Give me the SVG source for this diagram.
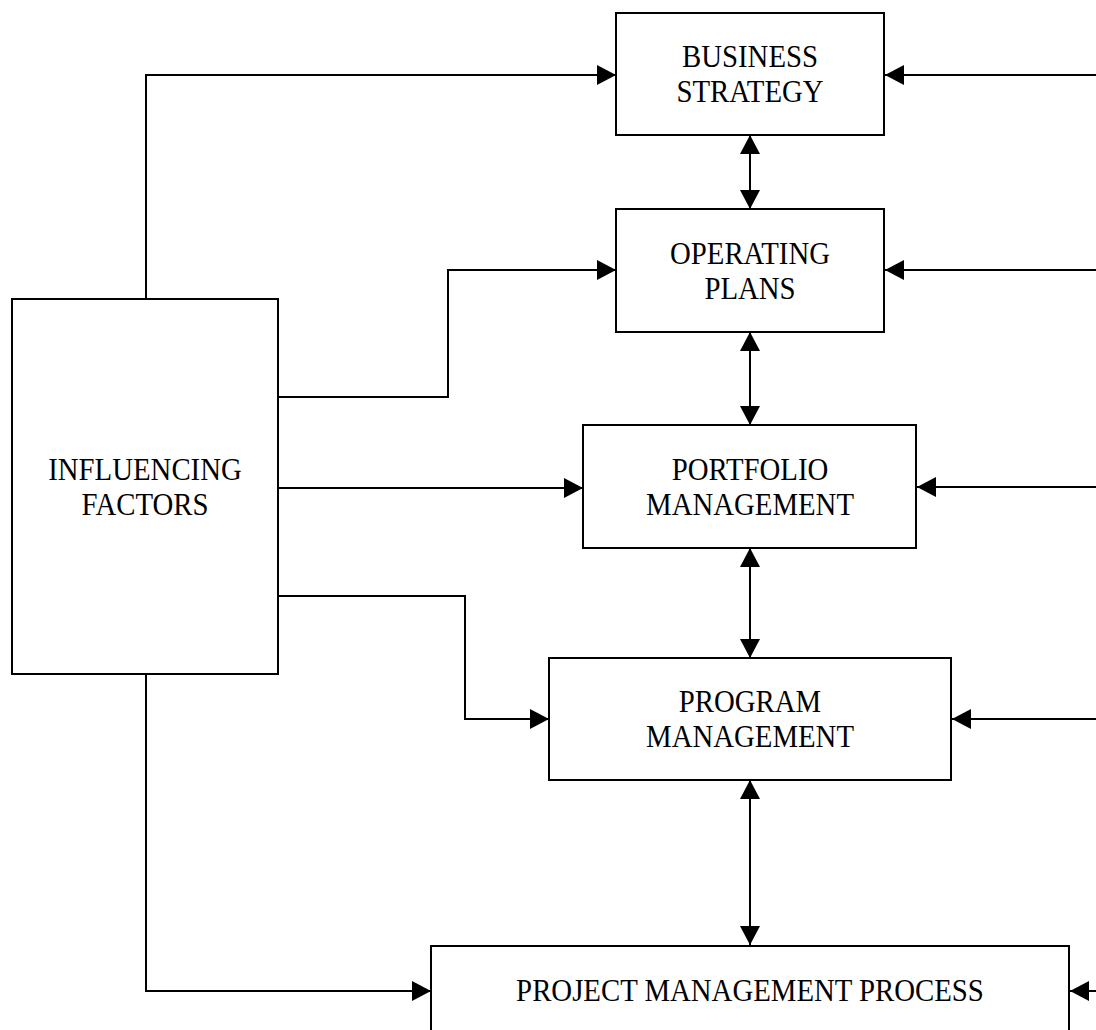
<svg xmlns="http://www.w3.org/2000/svg" width="1096" height="1030" viewBox="0 0 1096 1030">
  <style>
    .box { fill: #ffffff; stroke: #000000; stroke-width: 2; }
    .wire { fill: none; stroke: #000000; stroke-width: 2; }
    .lbl { font-family: "Liberation Serif", "Times New Roman", serif; font-size: 32px; fill: #000000; text-anchor: middle; }
  </style>
  <defs>
    <marker id="head" viewBox="0 0 19 20" refX="19" refY="10" markerWidth="19" markerHeight="20" markerUnits="userSpaceOnUse" orient="auto-start-reverse">
      <path d="M0,0 L19,10 L0,20 z" fill="#000000"/>
    </marker>
  </defs>
  <rect width="1096" height="1030" fill="#ffffff"/>

  <g id="connectors">
    <!-- influencing factors to each level -->
    <path class="wire" d="M146,299 V75 H616" marker-end="url(#head)"/>
    <path class="wire" d="M278,397 H448 V270 H616" marker-end="url(#head)"/>
    <path class="wire" d="M278,488 H583" marker-end="url(#head)"/>
    <path class="wire" d="M278,596 H465 V719 H549" marker-end="url(#head)"/>
    <path class="wire" d="M146,674 V991 H431" marker-end="url(#head)"/>
    <!-- inputs from the right edge -->
    <path class="wire" d="M1096,75 H885" marker-end="url(#head)"/>
    <path class="wire" d="M1096,270 H885" marker-end="url(#head)"/>
    <path class="wire" d="M1096,487 H917" marker-end="url(#head)"/>
    <path class="wire" d="M1096,719 H952" marker-end="url(#head)"/>
    <path class="wire" d="M1096,991 H1070" marker-end="url(#head)"/>
    <!-- two-way links down the hierarchy -->
    <path class="wire" d="M750,135 V209" marker-start="url(#head)" marker-end="url(#head)"/>
    <path class="wire" d="M750,332 V425" marker-start="url(#head)" marker-end="url(#head)"/>
    <path class="wire" d="M750,548 V658" marker-start="url(#head)" marker-end="url(#head)"/>
    <path class="wire" d="M750,780 V945" marker-start="url(#head)" marker-end="url(#head)"/>
  </g>

  <g id="business-strategy">
    <rect class="box" x="616" y="13" width="268" height="122"/>
    <text class="lbl" transform="translate(750,67) scale(0.9,1)">BUSINESS</text>
    <text class="lbl" transform="translate(750,102) scale(0.9,1)">STRATEGY</text>
  </g>

  <g id="operating-plans">
    <rect class="box" x="616" y="209" width="268" height="123"/>
    <text class="lbl" transform="translate(750,264) scale(0.9,1)">OPERATING</text>
    <text class="lbl" transform="translate(750,299) scale(0.9,1)">PLANS</text>
  </g>

  <g id="portfolio-management">
    <rect class="box" x="583" y="425" width="333" height="123"/>
    <text class="lbl" transform="translate(750,480) scale(0.9,1)">PORTFOLIO</text>
    <text class="lbl" transform="translate(750,515) scale(0.9,1)">MANAGEMENT</text>
  </g>

  <g id="program-management">
    <rect class="box" x="549" y="658" width="402" height="122"/>
    <text class="lbl" transform="translate(750,712) scale(0.9,1)">PROGRAM</text>
    <text class="lbl" transform="translate(750,747) scale(0.9,1)">MANAGEMENT</text>
  </g>

  <g id="project-management-process">
    <rect class="box" x="431" y="946" width="638" height="100"/>
    <text class="lbl" transform="translate(750,1001) scale(0.9,1)">PROJECT MANAGEMENT PROCESS</text>
  </g>

  <g id="influencing-factors">
    <rect class="box" x="12" y="299" width="266" height="375"/>
    <text class="lbl" transform="translate(145,480) scale(0.9,1)">INFLUENCING</text>
    <text class="lbl" transform="translate(145,515) scale(0.9,1)">FACTORS</text>
  </g>
</svg>
